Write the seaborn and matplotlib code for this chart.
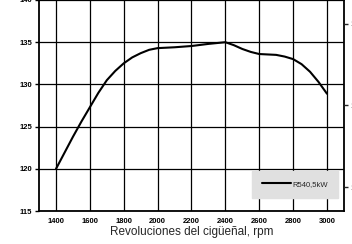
import numpy as np
import pandas as pd
import matplotlib
matplotlib.use("Agg")
import matplotlib.pyplot as plt
import seaborn as sns

# Values
rpm = [1400, 1450, 1500, 1550, 1600, 1650, 1700, 1750, 1800, 1850,
       1900, 1950, 2000, 2100, 2200, 2300, 2400, 2450, 2500, 2550,
       2600, 2700, 2750, 2800, 2850, 2900, 2950, 3000]
power = [120.0, 121.9, 123.8, 125.6, 127.3, 129.0, 130.5, 131.6, 132.5, 133.2,
         133.7, 134.1, 134.3, 134.4, 134.55, 134.8, 135.0, 134.65, 134.2, 133.85,
         133.6, 133.5, 133.3, 133.0, 132.4, 131.5, 130.3, 128.9]
series_name = "R540,5kW"

x_ticks = [1400, 1600, 1800, 2000, 2200, 2400, 2600, 2800, 3000]
y_ticks = [115, 120, 125, 130, 135, 140]
right_ticks = [1000, 1100, 1200]

df = pd.DataFrame({"rpm": rpm, "kW": power, "serie": series_name})

sns.set_style("white")
plt.rcParams["font.family"] = ["Liberation Sans", "DejaVu Sans"]

fig = plt.figure(figsize=(3.52, 2.44), dpi=100)
ax = fig.add_axes([0.111, 0.135, 0.866, 0.865])

sns.lineplot(data=df, x="rpm", y="kW", hue="serie", palette=["black"],
             linewidth=1.5, ax=ax)

ax.set_xlim(1300, 3100)
ax.set_ylim(115, 140)
ax.set_xticks(x_ticks)
ax.set_yticks(y_ticks)
ax.grid(True, color="black", linewidth=0.9)
ax.tick_params(axis="both", labelsize=5.5, length=3, width=1, colors="black",
               direction="out", pad=2)
for lab in ax.get_xticklabels() + ax.get_yticklabels():
    lab.set_fontweight("bold")
for s in ax.spines.values():
    s.set_color("black")
    s.set_linewidth(1.3)
ax.set_xlabel("Revoluciones del cigüeñal, rpm", fontsize=8.5, labelpad=1)
ax.set_ylabel("")

leg = ax.legend(loc="lower right", bbox_to_anchor=(0.982, 0.062), fontsize=5.5,
                frameon=True, fancybox=False, handlelength=3.8,
                borderpad=1.3, handletextpad=0.3, borderaxespad=0)
leg.get_frame().set_facecolor("#e0e0e0")
leg.get_frame().set_edgecolor("#e0e0e0")
leg.get_frame().set_alpha(1)

ax2 = ax.twinx()
ax2.set_ylim(970.5, 1229.4)
ax2.set_yticks(right_ticks)
ax2.tick_params(axis="y", labelsize=5.5, length=3, width=1, pad=2)
for s in ax2.spines.values():
    s.set_visible(False)

fig.savefig("out.png", dpi=100)
